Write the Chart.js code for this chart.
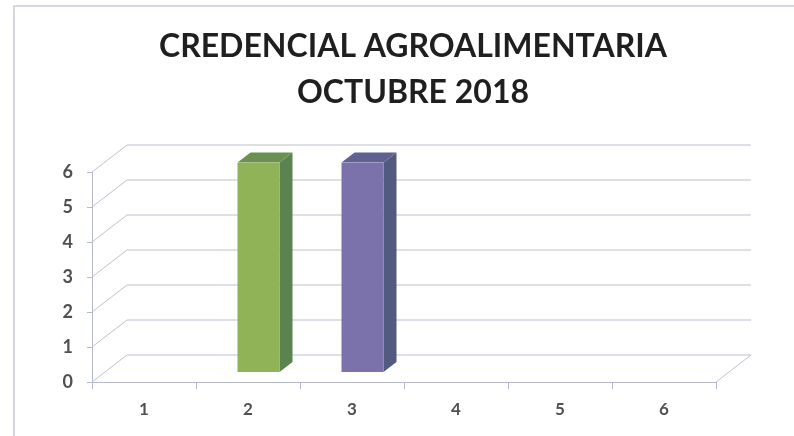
<!DOCTYPE html>
<html><head><meta charset="utf-8">
<script src="https://cdn.jsdelivr.net/npm/chart.js@4"></script>
<style>html,body{margin:0;padding:0;background:#fff}#w{position:relative;width:794px;height:436px}canvas{display:block}</style>
</head><body><div id="w"><canvas id="c" width="794" height="436"></canvas></div>
<script>
const titleLines = ['CREDENCIAL AGROALIMENTARIA', 'OCTUBRE 2018'];
const categories = ['1', '2', '3', '4', '5', '6'];
const values = [0, 6, 6, 0, 0, 0];
const frontColors = ['#8fb356', '#8fb356', '#7b72ab', '#7b72ab', '#7b72ab', '#7b72ab'];
const sideColors = ['#5b8350', '#5b8350', '#525a80', '#525a80', '#525a80', '#525a80'];
const topColors = ['#6a9152', '#6a9152', '#5f6290', '#5f6290', '#5f6290', '#5f6290'];

const wall = {dx: 35, dy: 27};
const barShift = {dx: 10.5, dy: 9.5};
const barDepth = {dx: 13, dy: 10};

const depthPlugin = {
  id: 'depth',
  beforeDatasetsDraw(chart) {
    const {ctx, chartArea: a, scales: {y}} = chart;
    ctx.save();
    ctx.strokeStyle = '#bfc1cf';
    ctx.lineWidth = 1;
    y.ticks.forEach(t => {
      const py = y.getPixelForValue(t.value);
      ctx.beginPath();
      ctx.moveTo(a.left, py);
      ctx.lineTo(a.left + wall.dx, py - wall.dy);
      ctx.lineTo(a.right + wall.dx, py - wall.dy);
      ctx.stroke();
    });
    ctx.beginPath();
    ctx.moveTo(a.right, a.bottom);
    ctx.lineTo(a.right + wall.dx, a.bottom - wall.dy);
    ctx.stroke();
    ctx.restore();
  },
  beforeDatasetDraw(chart) {
    const {ctx} = chart;
    ctx.save();
    ctx.translate(barShift.dx, -barShift.dy);
    chart.getDatasetMeta(0).data.forEach((bar, i) => {
      if (!values[i]) return;
      const hw = bar.width / 2, l = bar.x - hw, r = bar.x + hw, t = bar.y, b = bar.base;
      ctx.fillStyle = sideColors[i];
      ctx.beginPath();
      ctx.moveTo(r, t); ctx.lineTo(r + barDepth.dx, t - barDepth.dy);
      ctx.lineTo(r + barDepth.dx, b - barDepth.dy); ctx.lineTo(r, b);
      ctx.closePath(); ctx.fill();
      ctx.fillStyle = topColors[i];
      ctx.beginPath();
      ctx.moveTo(l, t); ctx.lineTo(l + barDepth.dx, t - barDepth.dy);
      ctx.lineTo(r + barDepth.dx, t - barDepth.dy); ctx.lineTo(r, t);
      ctx.closePath(); ctx.fill();
    });
  },
  afterDatasetDraw(chart) { chart.ctx.restore(); }
};

const framePlugin = {
  id: 'frame',
  beforeDraw(chart) {
    const {ctx} = chart;
    ctx.save();
    ctx.strokeStyle = '#d5d8de';
    ctx.lineWidth = 2;
    ctx.beginPath();
    ctx.moveTo(14, 436);
    ctx.lineTo(14, 6);
    ctx.lineTo(794, 6);
    ctx.stroke();
    ctx.restore();
  }
};

new Chart(document.getElementById('c'), {
  type: 'bar',
  data: {labels: categories, datasets: [{data: values, backgroundColor: frontColors,
    barPercentage: 0.404, categoryPercentage: 1}]},
  options: {
    responsive: false, animation: false,
    layout: {padding: {left: 32, right: 0, top: 0, bottom: 0}},
    plugins: {
      legend: {display: false}, tooltip: {enabled: false},
      title: {display: true, text: titleLines, color: '#1f1f1f',
        font: {family: 'Lato', size: 32, weight: 'bold', lineHeight: 1.4375},
        padding: {top: 24, bottom: 56}}
    },
    scales: {
      x: {
        grid: {drawOnChartArea: false, color: '#b4b8c8', tickLength: 7, offset: true},
        border: {color: '#b4b8c8'},
        ticks: {color: '#505050', font: {family: 'Lato', size: 17, weight: 'bold'}, padding: 10, maxRotation: 0},
        afterFit(s) { s.height = 54; }
      },
      y: {
        min: 0, max: 6,
        grid: {drawOnChartArea: false, color: '#b4b8c8', tickLength: 5},
        border: {color: '#b4b8c8'},
        ticks: {stepSize: 1, color: '#505050', font: {family: 'Lato', size: 18, weight: 'bold'}, padding: 14},
        afterFit(s) { s.width = 60; }
      },
      ghost: {
        axis: 'y', position: 'right', display: true,
        grid: {display: false}, border: {display: false},
        ticks: {display: false},
        afterFit(s) { s.width = 78; }
      }
    }
  },
  plugins: [framePlugin, depthPlugin]
});
</script></body></html>
